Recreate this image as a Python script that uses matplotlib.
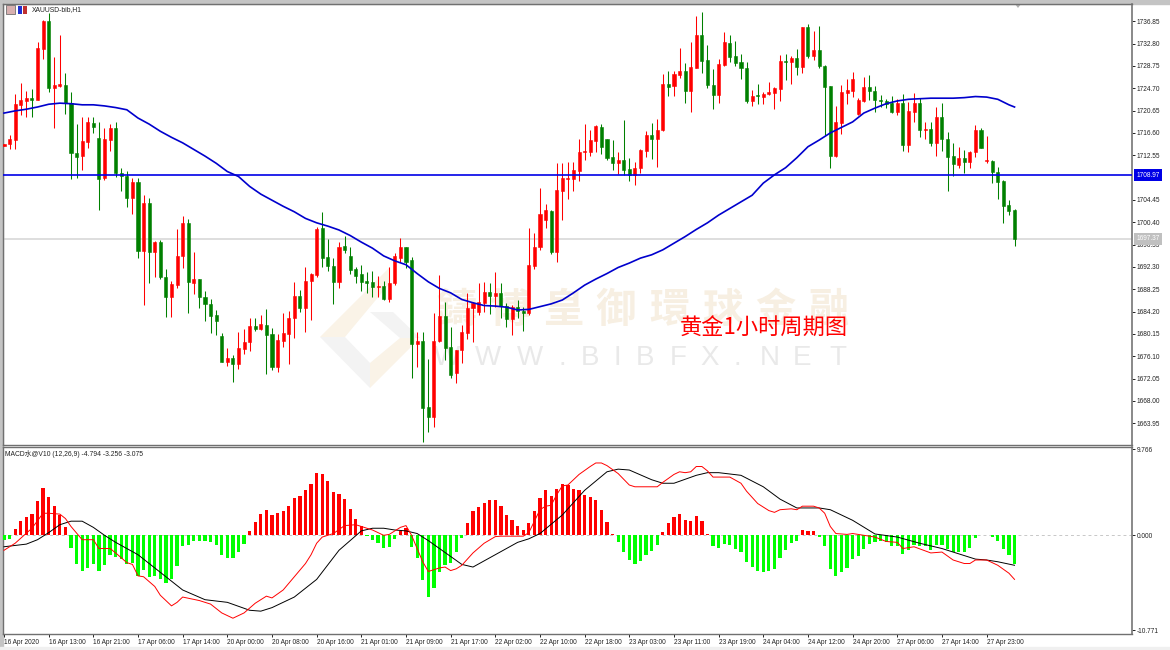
"""XAUUSD H1 velas con MA y MACD"""

import numpy as np
import matplotlib
matplotlib.use("Agg")
import matplotlib.pyplot as plt
from matplotlib.patches import Polygon, Rectangle

W, H = 1170, 650

opens = [
    1714.2, 1714.6, 1715.3, 1721.7, 1722.4, 1722.9, 1722.6, 1731.8, 1736.9, 1724.7,
    1725.1, 1725.3, 1722.0, 1713.0, 1712.4, 1715.0, 1718.4, 1715.7, 1708.4, 1715.3,
    1717.5, 1709.3, 1708.8, 1704.8, 1707.7, 1695.2, 1703.9, 1695.0, 1696.8, 1690.5,
    1686.9, 1689.0, 1694.3, 1700.3, 1689.4, 1690.1, 1686.9, 1685.6, 1683.6, 1679.8,
    1675.1, 1675.8, 1674.7, 1677.4, 1678.7, 1681.6, 1681.0, 1681.8, 1680.1, 1674.2,
    1678.9, 1680.1, 1683.0, 1687.0, 1684.9, 1689.7, 1690.8, 1699.4, 1694.1, 1692.5,
    1689.6, 1696.1, 1694.3, 1691.9, 1691.0, 1689.7, 1689.6, 1688.7, 1688.9, 1686.5,
    1689.4, 1693.9, 1695.9, 1693.6, 1678.3, 1678.9, 1666.9, 1665.1, 1678.9, 1683.4,
    1677.8, 1673.1, 1677.2, 1680.3, 1684.9, 1684.1, 1685.8, 1687.7, 1687.0, 1687.6,
    1685.2, 1682.9, 1685.0, 1684.3, 1683.9, 1692.5, 1695.9, 1700.8, 1702.4, 1695.0,
    1706.1, 1708.2, 1708.2, 1709.7, 1713.1, 1713.1, 1715.1, 1717.7, 1715.5, 1712.2,
    1711.1, 1711.7, 1710.1, 1709.0, 1710.2, 1713.3, 1716.2, 1715.5, 1717.1, 1725.5,
    1725.1, 1727.1, 1727.8, 1724.2, 1728.4, 1734.4, 1729.8, 1725.3, 1723.5, 1728.9,
    1732.9, 1730.6, 1729.5, 1728.4, 1722.4, 1723.5, 1723.1, 1723.7, 1723.9, 1724.6,
    1729.6, 1729.5, 1730.2, 1728.6, 1735.8, 1730.6, 1731.6, 1728.7, 1725.1, 1712.4,
    1718.4, 1723.8, 1724.2, 1720.0, 1722.4, 1724.9, 1724.2, 1722.6, 1722.4, 1722.0,
    1720.4, 1722.0, 1714.4, 1720.4, 1722.0, 1717.1, 1717.3, 1714.8, 1719.5, 1715.5,
    1712.4, 1710.8, 1712.1, 1711.3, 1713.1, 1717.1, 1711.5, 1711.5, 1709.5, 1707.9,
    1703.5, 1702.6,
]
highs = [
    1714.6, 1716.2, 1723.7, 1725.7, 1724.2, 1724.6, 1733.1, 1737.1, 1738.4, 1730.4,
    1734.4, 1727.5, 1724.0, 1718.2, 1719.5, 1719.5, 1719.5, 1718.6, 1717.5, 1718.2,
    1718.6, 1710.3, 1709.7, 1708.4, 1708.4, 1705.3, 1704.8, 1697.0, 1697.2, 1691.9,
    1689.7, 1699.2, 1701.5, 1701.0, 1695.0, 1690.1, 1687.9, 1686.5, 1684.5, 1680.3,
    1677.6, 1676.3, 1680.5, 1681.0, 1683.0, 1683.0, 1683.6, 1684.7, 1681.2, 1680.1,
    1683.9, 1684.3, 1689.6, 1688.1, 1692.3, 1691.2, 1699.5, 1702.3, 1697.4, 1693.9,
    1696.8, 1697.9, 1695.9, 1692.3, 1692.7, 1691.4, 1691.6, 1690.7, 1689.7, 1692.3,
    1694.8, 1697.5, 1695.9, 1694.1, 1680.5, 1680.5, 1675.6, 1683.9, 1690.8, 1685.9,
    1681.4, 1677.2, 1681.8, 1687.6, 1685.9, 1689.4, 1689.6, 1689.4, 1691.4, 1689.4,
    1685.7, 1685.4, 1686.3, 1685.0, 1699.4, 1698.5, 1706.6, 1703.7, 1702.6, 1711.2,
    1711.2, 1711.3, 1711.3, 1715.5, 1718.2, 1717.1, 1718.0, 1718.2, 1715.5, 1715.3,
    1713.1, 1718.9, 1712.0, 1711.3, 1713.7, 1716.9, 1718.4, 1719.1, 1727.3, 1727.8,
    1727.8, 1732.0, 1729.3, 1733.1, 1737.8, 1738.5, 1732.6, 1728.2, 1730.0, 1734.9,
    1734.4, 1733.3, 1730.9, 1729.5, 1724.4, 1725.5, 1724.0, 1725.8, 1724.9, 1730.7,
    1730.9, 1730.6, 1731.8, 1735.8, 1736.4, 1735.1, 1736.0, 1728.9, 1725.1, 1721.5,
    1725.3, 1726.4, 1727.6, 1722.9, 1726.7, 1727.1, 1725.1, 1723.5, 1722.8, 1723.3,
    1722.8, 1723.7, 1722.2, 1723.8, 1722.9, 1718.6, 1718.6, 1721.3, 1722.0, 1716.8,
    1714.8, 1714.0, 1713.5, 1713.3, 1718.0, 1717.5, 1716.0, 1711.7, 1710.4, 1708.1,
    1704.4, 1702.8,
]
lows = [
    1714.2, 1713.7, 1713.7, 1719.9, 1719.5, 1719.5, 1722.6, 1730.0, 1724.0, 1717.5,
    1724.9, 1720.0, 1708.2, 1708.4, 1709.9, 1713.9, 1716.6, 1702.6, 1708.1, 1713.3,
    1708.6, 1706.1, 1703.2, 1701.9, 1693.9, 1685.4, 1689.4, 1690.5, 1690.1, 1683.2,
    1683.2, 1688.5, 1692.1, 1683.9, 1687.4, 1684.9, 1682.5, 1680.3, 1680.0, 1675.1,
    1674.3, 1671.4, 1673.8, 1676.5, 1677.1, 1680.7, 1680.9, 1672.9, 1673.6, 1673.3,
    1677.8, 1674.7, 1679.4, 1684.1, 1680.5, 1682.7, 1690.5, 1692.3, 1691.6, 1685.6,
    1688.5, 1694.8, 1691.0, 1689.4, 1687.9, 1687.6, 1686.9, 1686.9, 1686.3, 1685.9,
    1689.0, 1693.2, 1692.1, 1672.2, 1674.2, 1660.6, 1662.4, 1663.3, 1678.7, 1675.4,
    1672.2, 1671.3, 1674.9, 1679.2, 1678.7, 1683.6, 1684.1, 1683.8, 1685.0, 1683.0,
    1681.4, 1680.0, 1683.0, 1680.7, 1683.6, 1691.9, 1695.4, 1699.4, 1694.6, 1693.2,
    1700.8, 1704.6, 1706.1, 1707.9, 1711.7, 1712.4, 1713.1, 1712.8, 1711.7, 1709.9,
    1709.2, 1709.0, 1707.9, 1707.2, 1709.3, 1712.2, 1711.9, 1710.4, 1716.9, 1723.3,
    1723.3, 1726.6, 1722.0, 1720.4, 1728.4, 1727.5, 1724.8, 1720.9, 1722.0, 1728.7,
    1729.5, 1728.7, 1726.4, 1722.0, 1721.5, 1721.9, 1721.9, 1723.5, 1720.9, 1722.4,
    1726.2, 1725.5, 1727.1, 1727.5, 1730.2, 1729.8, 1728.4, 1716.2, 1710.2, 1712.2,
    1716.4, 1721.9, 1723.1, 1719.9, 1722.2, 1722.6, 1720.4, 1721.3, 1721.1, 1720.2,
    1719.9, 1713.3, 1713.1, 1718.6, 1715.9, 1715.5, 1714.2, 1712.4, 1713.3, 1706.1,
    1708.8, 1710.2, 1709.3, 1710.2, 1712.2, 1713.9, 1711.1, 1707.5, 1704.6, 1700.3,
    1701.7, 1696.1,
]
closes = [
    1714.6, 1715.5, 1721.9, 1722.6, 1722.9, 1722.6, 1732.0, 1736.9, 1724.7, 1725.3,
    1725.5, 1722.0, 1713.0, 1712.2, 1715.1, 1718.6, 1717.7, 1708.2, 1715.5, 1717.5,
    1709.3, 1708.8, 1704.8, 1707.7, 1695.2, 1703.9, 1695.0, 1696.8, 1690.5, 1686.9,
    1689.2, 1694.3, 1700.3, 1689.6, 1690.1, 1686.9, 1685.6, 1683.4, 1682.5, 1675.1,
    1675.8, 1674.7, 1677.6, 1678.7, 1681.6, 1681.0, 1682.0, 1680.0, 1674.2, 1679.1,
    1680.3, 1683.0, 1687.0, 1684.9, 1689.8, 1691.0, 1699.2, 1693.9, 1692.5, 1689.6,
    1695.9, 1695.4, 1691.7, 1690.7, 1689.6, 1689.4, 1688.7, 1688.9, 1686.5, 1689.4,
    1694.3, 1695.9, 1693.2, 1678.3, 1678.9, 1666.7, 1665.1, 1678.9, 1683.4, 1677.6,
    1672.7, 1677.2, 1680.5, 1684.9, 1685.8, 1685.9, 1687.7, 1687.0, 1687.6, 1685.2,
    1682.9, 1685.0, 1684.3, 1683.9, 1692.7, 1695.9, 1701.9, 1702.6, 1695.0, 1706.3,
    1708.4, 1708.4, 1709.9, 1713.1, 1713.3, 1715.3, 1717.9, 1714.0, 1712.0, 1711.1,
    1711.7, 1709.9, 1709.0, 1710.2, 1713.5, 1716.2, 1715.5, 1717.1, 1725.5, 1724.9,
    1727.3, 1727.8, 1724.2, 1728.6, 1734.4, 1729.6, 1725.3, 1723.5, 1729.1, 1733.1,
    1730.4, 1729.3, 1728.4, 1722.4, 1723.3, 1723.3, 1723.7, 1724.0, 1724.7, 1729.6,
    1729.5, 1730.2, 1728.6, 1735.8, 1730.6, 1731.6, 1728.7, 1724.9, 1712.4, 1718.6,
    1724.0, 1724.4, 1726.4, 1722.6, 1724.9, 1724.2, 1722.6, 1722.4, 1721.9, 1720.4,
    1722.0, 1714.4, 1720.6, 1722.0, 1717.1, 1717.3, 1714.8, 1719.5, 1715.5, 1712.2,
    1711.0, 1712.1, 1711.3, 1713.1, 1717.1, 1713.9, 1711.7, 1709.5, 1707.7, 1703.3,
    1702.4, 1697.4,
]

ma_bars = [0, 2, 4, 6, 8, 10, 12, 14, 16, 18, 20, 22, 24, 26, 28, 30, 32, 34, 36, 38, 40, 42, 44,
           46, 48, 50, 52, 54, 56, 58, 60, 62, 64, 66, 68, 70, 72, 74, 76, 78, 80, 82, 84, 86, 88,
           90, 92, 94, 96, 98, 100, 102, 104, 106, 108, 110, 112, 114, 116, 118, 120, 122, 124,
           126, 128, 130, 132, 134, 136, 138, 140, 142, 144, 146, 148, 150, 152, 154, 156, 158,
           160, 162, 164, 166, 168, 170, 172, 174, 176, 178, 180, 181]
ma_values = [1720.2, 1720.6, 1720.9, 1721.3, 1721.8, 1722.0, 1721.9, 1721.7, 1721.7, 1721.5, 1721.2,
             1720.8, 1719.3, 1718.2, 1716.9, 1715.8, 1714.8, 1713.6, 1712.4, 1711.1, 1709.6, 1708.7,
             1706.9, 1705.5, 1704.4, 1703.3, 1702.3, 1701.1, 1700.3, 1699.7, 1699.0, 1698.0, 1696.8,
             1695.7, 1694.3, 1693.4, 1692.7, 1691.1, 1689.6, 1688.4, 1687.6, 1686.4, 1685.8, 1685.3,
             1685.2, 1685.0, 1684.5, 1684.6, 1685.1, 1685.6, 1686.3, 1687.6, 1689.0, 1690.1, 1691.1,
             1692.2, 1693.0, 1693.9, 1694.5, 1695.4, 1696.6, 1697.8, 1699.1, 1700.3, 1701.7, 1702.9,
             1704.1, 1705.3, 1707.5, 1709.0, 1710.3, 1712.1, 1714.1, 1715.3, 1716.6, 1717.6, 1718.6,
             1720.2, 1721.1, 1721.9, 1722.4, 1722.7, 1722.8, 1722.9, 1722.9, 1722.9, 1723.0, 1723.2,
             1723.1, 1722.7, 1721.7, 1721.3]

level_blue = 1708.97
level_gray = 1697.37

hist = [
    -0.5, -0.4, 0.7, 1.6, 2.1, 2.4, 3.9, 5.4, 4.3, 3.3,
    2.3, 0.9, -1.4, -3.2, -4.0, -3.7, -3.2, -4.0, -3.4, -2.2,
    -2.5, -2.7, -3.2, -3.1, -4.6, -3.9, -4.7, -4.6, -5.0, -5.4,
    -5.0, -3.5, -1.2, -1.1, -0.6, -0.6, -0.6, -0.8, -1.1, -2.2,
    -2.6, -2.6, -1.9, -1.0, 0.5, 1.5, 2.4, 2.9, 2.3, 2.5,
    2.8, 3.3, 4.2, 4.5, 5.1, 5.8, 7.1, 7.0, 6.2, 4.9,
    4.7, 4.1, 3.0, 1.9, 1.0, -0.1, -0.5, -0.9, -1.4, -1.3,
    -0.4, 0.5, 0.8, -1.3, -2.6, -5.1, -7.0, -6.0, -4.2, -3.4,
    -3.1, -1.9, -0.3, 1.4, 2.7, 3.2, 3.7, 4.0, 4.0, 3.3,
    2.3, 1.7, 1.1, 0.6, 1.4, 2.7, 4.2, 5.1, 4.5, 5.3,
    5.8, 5.7, 5.3, 5.1, 4.6, 4.3, 4.0, 2.9, 1.5, 0.2,
    -0.8, -1.9, -2.8, -3.2, -2.9, -2.2, -1.8, -1.1, 0.4, 1.4,
    2.1, 2.4, 1.7, 1.6, 2.2, 1.6, 0.2, -1.2, -1.4, -1.0,
    -1.1, -1.5, -1.9, -3.0, -3.6, -4.0, -4.2, -4.0, -3.8, -2.6,
    -1.7, -0.9, -0.6, 0.6, 0.5, 0.5, -0.15, -1.2, -3.8, -4.6,
    -4.2, -3.7, -2.7, -2.4, -1.6, -1.0, -0.8, -0.7, -0.8, -1.2,
    -1.2, -2.1, -1.7, -1.1, -1.2, -1.2, -1.7, -1.1, -1.1, -1.6,
    -1.9, -1.9, -1.9, -1.4, -0.3, 0.0, 0.0, -0.2, -0.6, -1.5,
    -2.2, -3.25,
]

signal_bars = [0, 4, 6, 8, 10, 12, 14, 16, 18, 20, 24, 28, 32, 36, 40, 44, 46, 48, 52, 56, 60, 64,
               66, 68, 70, 72, 74, 76, 80, 82, 84, 88, 92, 94, 96, 100, 104, 108, 110, 112, 116,
               118, 120, 124, 126, 128, 132, 136, 139, 142, 146, 148, 152, 156, 160, 164, 168,
               172, 174, 176, 178, 181]
signal_values = [-1.3, -1.0, -0.5, 0.3, 1.2, 1.6, 1.6, 0.9, 0.0, -0.8, -2.2, -4.2, -6.2, -7.3, -7.6,
                 -8.5, -8.6, -8.2, -7.0, -5.0, -1.7, 0.5, 0.8, 0.8, 0.6, 0.5, 0.2, -0.6, -2.4, -3.3,
                 -3.6, -2.2, -0.8, -0.4, 0.2, 2.3, 5.1, 7.2, 7.5, 7.4, 6.3, 5.9, 5.9, 6.8, 7.1,
                 7.1, 6.8, 5.5, 4.1, 3.1, 3.1, 2.9, 1.7, 0.15, -0.2, -0.9, -1.5, -2.3, -2.7, -2.8,
                 -3.0, -3.4]

macd_bars = [0, 2, 5, 7, 8, 10, 11, 12, 14, 16, 17, 19, 20, 22, 23, 24, 25, 27, 28, 30, 31, 32, 35,
             37, 39, 41, 43, 45, 47, 48, 50, 52, 54, 55, 56, 57, 59, 61, 63, 66, 68, 69,
             71, 72, 73, 74, 75, 76, 77, 78, 79, 80, 81, 82, 84, 86, 88, 89, 91, 93, 94, 95, 96,
             97, 98, 99, 100, 101, 103, 105, 106, 107, 108, 110, 112, 113, 117, 118, 120, 121,
             122, 123, 124, 125, 126, 127, 129, 130, 132, 133, 135, 137, 138,
             139, 141, 142, 143, 145, 146, 147, 148, 149, 151, 152, 154, 156, 158, 160, 161,
             163, 166, 168, 170, 172, 173, 174, 176, 178, 180, 181]
macd_values = [-1.7, -0.9, 0.8, 2.5, 2.5, 2.4, 1.9, 1.0, -0.5, -0.5, -1.5, -1.5, -2.0, -3.1, -3.3,
               -4.6, -4.7, -5.8, -6.8, -8.0, -7.6, -7.0, -7.4, -7.8, -8.8, -9.4, -8.8, -7.7, -6.9,
               -7.1, -6.2, -4.7, -3.2, -2.2, -0.9, -0.2, 0.2, 1.1, 1.2, 0.6, 0.0, 0.1,
               0.9, 1.1, 0.0, -1.5, -3.0, -4.1, -3.9, -3.7, -3.6, -4.0, -3.8, -3.4, -2.0, -0.9,
               -0.15, -0.1, -0.1, -0.1, 0.3, 1.6, 2.9, 3.3, 3.4, 4.6, 5.6, 5.7, 6.9, 7.8, 8.2,
               8.2, 7.9, 7.0, 5.7, 5.5, 5.5, 6.0, 6.9, 7.2, 7.1, 7.2, 7.8, 7.8, 7.3, 6.6, 6.6,
               6.6, 5.9, 5.0, 3.6, 2.8, 2.6,
               2.9, 3.0, 2.9, 3.3, 3.3, 3.1, 2.5, 1.0, 0.2, 0.1, 0.2, 0.0, -0.2, -0.7, -0.8, -1.5,
               -1.3, -2.0, -1.9, -2.8, -3.2, -3.2, -2.8, -2.8, -3.4, -4.3, -5.0]

price_ticks = [1736.85, 1732.80, 1728.75, 1724.70, 1720.65, 1716.60, 1712.55, 1704.45, 1700.40,
               1696.35, 1692.30, 1688.25, 1684.20, 1680.15, 1676.10, 1672.05, 1668.00, 1663.95]
macd_ticks = [9.766, 0.0, -10.771]
macd_tick_labels = ["9.766", "0.000", "-10.771"]
time_labels = ["16 Apr 2020", "16 Apr 13:00", "16 Apr 21:00", "17 Apr 06:00", "17 Apr 14:00",
               "20 Apr 00:00", "20 Apr 08:00", "20 Apr 16:00", "21 Apr 01:00", "21 Apr 09:00",
               "21 Apr 17:00", "22 Apr 02:00", "22 Apr 10:00", "22 Apr 18:00", "23 Apr 03:00",
               "23 Apr 11:00", "23 Apr 19:00", "24 Apr 04:00", "24 Apr 12:00", "24 Apr 20:00",
               "27 Apr 06:00", "27 Apr 14:00", "27 Apr 23:00"]

UP = "#ff0000"
DOWN = "#008000"
SMALL = "Liberation Sans"


def box(left, top, right, bottom):
    # caja en pixeles de la imagen -> fracciones de figura
    return [left / W, 1 - bottom / H, (right - left) / W, (bottom - top) / H]


def px(x, y):
    return (x / W, 1 - y / H)


fig = plt.figure(figsize=(W / 100, H / 100), dpi=100, facecolor="white")

# marco de la ventana
fig.patches.append(Rectangle(px(0, 4), 1, 4 / H, transform=fig.transFigure, color="#c4c4c4", zorder=-4))
fig.patches.append(Rectangle(px(0, 650), 3 / W, 1, transform=fig.transFigure, color="#c4c4c4", zorder=-4))
fig.patches.append(Rectangle(px(0, 650), 1, 3 / H, transform=fig.transFigure, color="#f0f0f0", zorder=-4))

ax = fig.add_axes(box(3, 4, 1132, 445))
ax2 = fig.add_axes(box(3, 447, 1132, 634))
bar_lim = (-0.18, 202.04)
ax.set_xlim(bar_lim)
ax.set_ylim(1660.01, 1739.98)
ax2.set_xlim(bar_lim)
ax2.set_ylim(-11.19, 10.01)

# marca de agua
for pts, col in [([(320, 337), (390, 267), (390, 283), (345, 337)], "#faf3e7"),
                 ([(320, 337), (370, 388), (370, 363), (345, 337)], "#f3f3f3"),
                 ([(370, 388), (415, 343), (415, 338), (400, 338), (370, 363)], "#faf3e7"),
                 ([(370, 312), (393, 312), (420, 338), (400, 338)], "#f3f3f3")]:
    fig.patches.append(Polygon([px(*p) for p in pts], closed=True, transform=fig.transFigure,
                               facecolor=col, edgecolor="none", zorder=-1))
ax.patch.set_alpha(0)
for ch, cx in zip("鑄博皇御環球金融", [457, 510, 563, 616, 669, 722, 775, 828]):
    fig.text(*px(cx, 310), ch, color="#f7efe2", fontsize=29, ha="center", va="center", weight="bold",
             family=["Noto Sans CJK TC", "DejaVu Sans"], zorder=-1)
for ch, cx in zip("WWW.BIBFX.NET", [447, 488, 530, 562, 590, 617, 645, 678, 710, 737, 770, 802, 838]):
    fig.text(*px(cx, 358), ch, color="#e9e9e9", fontsize=20, ha="center", va="center",
             family="Liberation Sans", zorder=-1)

# velas
bars = np.arange(len(opens))
o, h, l, c = map(np.array, (opens, highs, lows, closes))
up = c >= o
colors = np.where(up, UP, DOWN)
ax.vlines(bars, l, h, colors=colors, linewidth=0.75, zorder=3)
ax.bar(bars, np.abs(c - o), bottom=np.minimum(o, c), width=0.55, color=colors,
       edgecolor=colors, linewidth=0.4, zorder=4)
ax.axhline(level_gray, color="#d4d4d4", linewidth=1.1, zorder=2)
ax.axhline(level_blue, color="#0000e6", linewidth=1.2, zorder=5)
ax.plot(ma_bars, ma_values, color="#0000cd", linewidth=1.2, zorder=6)

ax.set_xticks([])
ax.yaxis.tick_right()
ax.set_yticks(price_ticks)
ax.set_yticklabels([f"{v:.2f}" for v in price_ticks], fontsize=4.7, family=SMALL)
ax.tick_params(axis="y", direction="out", length=2.5, width=0.7, pad=1, colors="#222222")

ax.text(1 / 1129 * 29, 1 - 6 / 441, "XAUUSD-bib,H1", transform=ax.transAxes, fontsize=4.9,
        family=SMALL, va="center", color="#222222")
# iconos del titulo
ax.add_patch(Rectangle(px(6, 14), 9 / W, 9 / H, transform=fig.transFigure, facecolor="#d8b0b0",
                       edgecolor="#707070", linewidth=0.6, clip_on=False))
ax.add_patch(Rectangle(px(18, 14), 4 / W, 8 / H, transform=fig.transFigure, facecolor="#2030d0",
                       edgecolor="none", clip_on=False))
ax.add_patch(Rectangle(px(23, 14), 4 / W, 8 / H, transform=fig.transFigure, facecolor="#c03030",
                       edgecolor="none", clip_on=False))
ax.add_patch(Polygon([px(1015, 4), px(1021, 4), px(1018, 8)], transform=fig.transFigure,
                     facecolor="#b0b0b0", edgecolor="none", clip_on=False))

# etiquetas de nivel
for level, bg, fg in [(level_blue, "#0000e6", "white"), (level_gray, "#c0c0c0", "white")]:
    ax.annotate(f"{level:.2f}", xy=(1, level), xycoords=("axes fraction", "data"), xytext=(3, 0),
                textcoords="offset points", fontsize=4.7, family=SMALL, color=fg, va="center",
                bbox=dict(boxstyle="square,pad=0.35", facecolor=bg, edgecolor="none"),
                annotation_clip=False, zorder=10)

fig.text(*px(764, 328), "黄金1小时周期图", color="#ff0000", fontsize=16, ha="center", va="center",
         family=["Noto Sans CJK SC", "DejaVu Sans"], zorder=20)

# MACD
hist = np.array(hist)
ax2.bar(bars, hist, width=0.58, color=np.where(hist >= 0, "#ff0000", "#00ff00"), zorder=3)
ax2.axhline(0, color="#c8c8c8", linewidth=0.7, linestyle=(0, (3, 3)), zorder=2)
ax2.plot(signal_bars, signal_values, color="black", linewidth=0.7, zorder=5)
ax2.plot(macd_bars, macd_values, color="#ff0000", linewidth=0.7, zorder=6)
ax2.text(1 / 1129 * 2, 1 - 7 / 187, "MACD水@V10 (12,26,9) -4.794 -3.256 -3.075", transform=ax2.transAxes,
         fontsize=4.85, family=["Liberation Sans", "Noto Sans CJK SC"], va="center", color="#222222")

ax2.yaxis.tick_right()
ax2.set_yticks(macd_ticks)
ax2.set_yticklabels(macd_tick_labels, fontsize=4.7, family=SMALL)
ax2.tick_params(axis="y", direction="out", length=2.5, width=0.7, pad=1, colors="#222222")
ax2.set_xticks(bars[::8][:len(time_labels)])
ax2.set_xticklabels(time_labels, fontsize=4.7, family=SMALL, ha="left")
ax2.tick_params(axis="x", direction="out", length=2.5, width=0.7, pad=1, colors="#222222")

for a in (ax, ax2):
    for side in a.spines:
        a.spines[side].set_color("#707070")
        a.spines[side].set_linewidth(1.0)
    a.spines["right"].set_linewidth(1.3)
    a.spines["right"].set_color("#808080")

plt.savefig("out.png", dpi=100)
